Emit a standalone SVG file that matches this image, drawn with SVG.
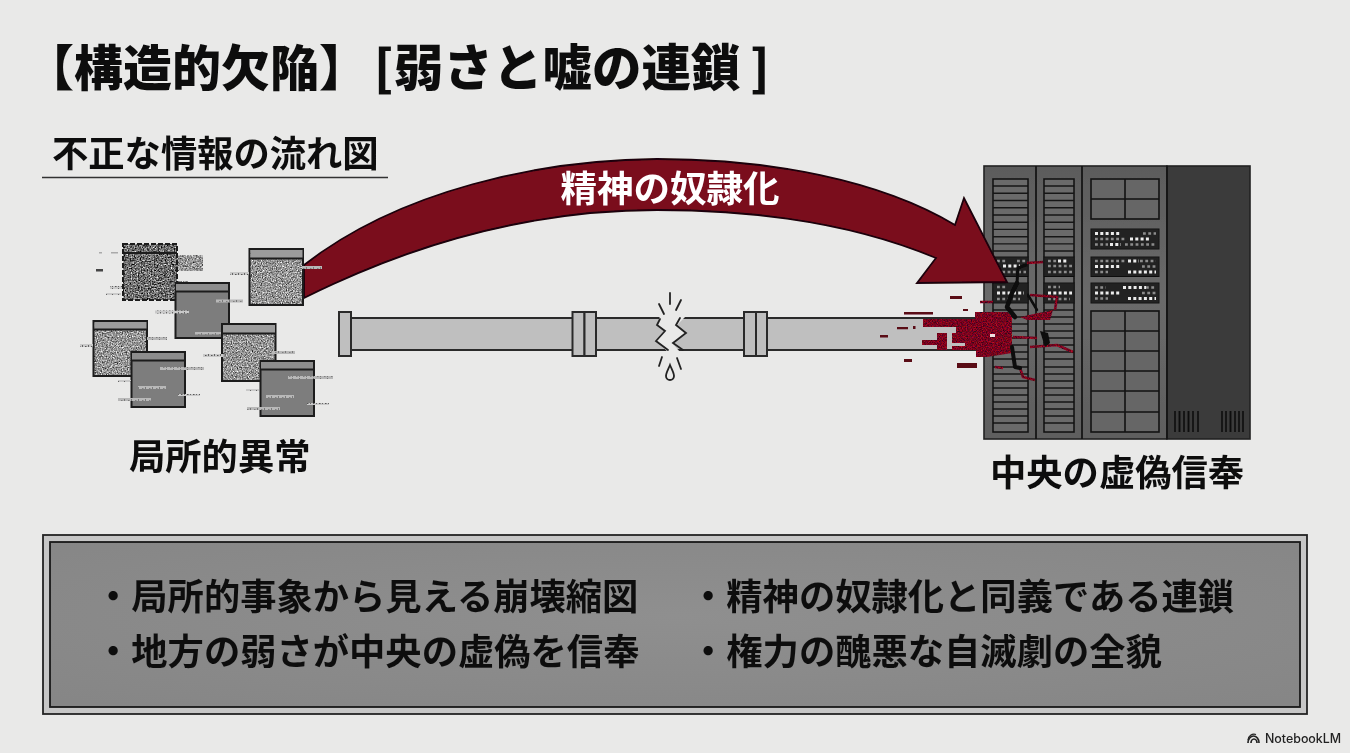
<svg xmlns="http://www.w3.org/2000/svg" width="1350" height="753" viewBox="0 0 1350 753">
<style>
text{font-family:"Noto Sans CJK JP","Noto Sans",sans-serif;font-weight:700;fill:#111}
.t36{font-size:36.300px}
.doc{stroke:#1c1c1c;stroke-width:2}
.hd{fill:none;stroke:#1c1c1c;stroke-width:2}
.lab{fill:url(#txt)}
.lab2{fill:url(#txt2)}
.mod{fill:#242424;stroke:#111;stroke-width:1}
.cell{fill:#666;stroke:#141414;stroke-width:1.6}
.dim{stroke:#8c8c8c;stroke-width:2.6;stroke-dasharray:2.8 2.5;fill:none}
.lit{stroke:#ececec;stroke-width:3;stroke-dasharray:3 2.3;fill:none}
.pipe{fill:#bfbfbf;stroke:#2a2a2a;stroke-width:2}
.scrap{fill:#5a0714}
.crk{fill:none;stroke:#0c0c0c;stroke-linecap:round;stroke-linejoin:round}
.vein{fill:none;stroke:#8f1029;stroke-width:2.6;stroke-linejoin:round}
.spark{stroke:#222;stroke-width:1.8;stroke-linecap:round;fill:none}
</style>
<defs>
<filter id="soft" x="0" y="0" width="100%" height="100%"><feGaussianBlur stdDeviation="0.5"/></filter>
<filter id="noise" x="0" y="0" width="100%" height="100%" color-interpolation-filters="sRGB">
<feTurbulence type="fractalNoise" baseFrequency="0.8" numOctaves="2" seed="4"/>
<feColorMatrix type="matrix" values="0.900 0.900 0 0 -0.320 0.900 0.900 0 0 -0.320 0.900 0.900 0 0 -0.320 0 0 0 0 1"/>
<feComposite in2="SourceAlpha" operator="in"/>
</filter>
<filter id="noiseD" x="0" y="0" width="100%" height="100%" color-interpolation-filters="sRGB">
<feTurbulence type="fractalNoise" baseFrequency="0.7" numOctaves="2" seed="11"/>
<feColorMatrix type="matrix" values="1.050 1.050 0 0 -0.620 1.050 1.050 0 0 -0.620 1.050 1.050 0 0 -0.620 0 0 0 0 1"/>
<feComposite in2="SourceAlpha" operator="in"/>
</filter>
<filter id="noiseR" x="-5%" y="-5%" width="110%" height="110%" color-interpolation-filters="sRGB">
<feTurbulence type="fractalNoise" baseFrequency="0.8" numOctaves="2" seed="7"/>
<feColorMatrix type="matrix" values="1 0 0 0 -0.030 0 0.100 0 0 -0.030 0 0 0.300 0 -0.030 0 0 0 0 1"/>
<feComposite in2="SourceAlpha" operator="in"/>
</filter>
<pattern id="txt" width="7" height="3" patternUnits="userSpaceOnUse"><rect width="7" height="3" fill="#b8b8b8"/><rect x="2" y="1" width="1.500" height="1" fill="#808080"/><rect x="5" width="1" height="2" fill="#7a7a7a"/></pattern>
<pattern id="txt2" width="6" height="3" patternUnits="userSpaceOnUse"><rect width="6" height="3" fill="#c9c9c9"/><rect x="1" y="1" width="1.500" height="1" fill="#555"/><rect x="4" width="1" height="2" fill="#666"/></pattern>
<radialGradient id="pan" cx="50%" cy="45%" r="70%"><stop offset="0" stop-color="#8f8f8f"/><stop offset="1" stop-color="#868686"/></radialGradient>
<linearGradient id="rack" x1="0" y1="0" x2="0" y2="1"><stop offset="0" stop-color="#5c5c5c"/><stop offset=".5" stop-color="#6a6a6a"/><stop offset="1" stop-color="#5e5e5e"/></linearGradient>
</defs>
<rect width="1350" height="753" fill="#e9e9e8"/>
<g filter="url(#soft)">
<g id="heading">
<text font-size="49" x="25" y="86" style="font-weight:900">【構造的欠陥】</text>
<text font-size="49" x="374" y="86" style="font-weight:900">[</text>
<text font-size="49.500" x="394" y="86" style="font-weight:900">弱さと嘘の連鎖</text>
<text font-size="49" x="750" y="86" style="font-weight:900">]</text>
</g>
<g id="subtitle">
<text class="t36" x="52" y="167">不正な情報の流れ図</text>
<line x1="42" y1="177.500" x2="388" y2="177.500" stroke="#333" stroke-width="1.600"/>
</g>

<g id="server">
<rect x="984" y="166" width="183" height="273" fill="url(#rack)" stroke="#222" stroke-width="1.600"/>
<rect x="1167" y="166" width="83" height="273" fill="#3a3a3a" stroke="#222" stroke-width="1.600"/>
<path d="M1036 166V439M1082 166V439M1167 166V439" stroke="#151515" stroke-width="1.800" fill="none"/>
<g id="vent1">
<rect x="993" y="179" width="35" height="253" fill="#6a6a6a" stroke="#151515" stroke-width="1.600"/>
<path d="M993 186H1028M993 193.300H1028M993 200.500H1028M993 207.700H1028M993 215H1028M993 222.200H1028M993 229.400H1028M993 236.700H1028M993 243.900H1028M993 251H1028M993 310H1028M993 317H1028M993 324H1028M993 331H1028M993 338H1028M993 345H1028M993 352H1028M993 359H1028M993 367H1028M993 374H1028M993 381H1028M993 388H1028M993 395H1028M993 402H1028M993 409H1028M993 416H1028M993 423H1028" stroke="#151515" stroke-width="1.400"/>
<rect class="mod" x="993" y="257" width="35" height="19.500"/><rect class="mod" x="993" y="283" width="35" height="20"/>
<path class="dim" d="M997 261H1006M1017 261H1026M997 272H1026"/><path class="lit" d="M1003 266H1020"/>
<path class="dim" d="M997 287H1006M997 299H1020"/><path class="lit" d="M997 293H1024"/>
</g>
<g id="vent2">
<rect x="1044" y="179" width="30" height="253" fill="#6a6a6a" stroke="#151515" stroke-width="1.600"/>
<path d="M1044 186H1074M1044 193.300H1074M1044 200.500H1074M1044 207.700H1074M1044 215H1074M1044 222.200H1074M1044 229.400H1074M1044 236.700H1074M1044 243.900H1074M1044 251H1074M1044 310H1074M1044 317H1074M1044 324H1074M1044 331H1074M1044 338H1074M1044 345H1074M1044 352H1074M1044 359H1074M1044 367H1074M1044 374H1074M1044 381H1074M1044 388H1074M1044 395H1074M1044 402H1074M1044 409H1074M1044 416H1074M1044 423H1074" stroke="#151515" stroke-width="1.400"/>
<rect class="mod" x="1044" y="257" width="30" height="19.500"/><rect class="mod" x="1044" y="283" width="30" height="20"/>
<path class="dim" d="M1048 261H1057M1048 266H1072M1048 272H1072"/><path class="lit" d="M1058 261H1068"/>
<path class="dim" d="M1048 287H1060M1048 299H1070"/><path class="lit" d="M1048 293H1072"/>
</g>
<g id="panel3">
<rect class="cell" x="1091" y="179" width="68" height="40"/>
<path d="M1125 179V219M1091 199H1159" stroke="#141414" stroke-width="1.600"/>
<rect class="cell" x="1091" y="311" width="68" height="121"/>
<path d="M1125 311V432M1091 331H1159M1091 351H1159M1091 371H1159M1091 391H1159M1091 412H1159" stroke="#141414" stroke-width="1.600"/>
<rect class="mod" x="1091" y="229" width="68" height="20"/><rect class="mod" x="1091" y="257" width="68" height="19.500"/><rect class="mod" x="1091" y="283" width="68" height="20"/>
<path class="lit" d="M1095 233.500H1121M1130 239H1151M1110 244.500H1121"/>
<path class="dim" d="M1143 233.500H1156M1095 239H1126M1095 244.500H1108M1125 244.500H1156"/>
<path class="lit" d="M1128 261H1139M1095 266.500H1121M1128 272H1156"/>
<path class="dim" d="M1095 261H1126M1140 261H1156M1142 266.500H1156M1095 272H1108"/>
<path class="lit" d="M1123 287.500H1146M1095 293H1121M1128 298.500H1156"/>
<path class="dim" d="M1095 287.500H1106M1146 287.500H1156M1142 293H1156M1095 298.500H1108"/>
</g>
<path d="M1175 411V432M1179.500 411V432M1184 411V432M1188.500 411V432M1193 411V432M1198 411V432M1222 411V432M1226 411V432M1230.500 411V432M1235 411V432M1239 411V432M1243 411V432" stroke="#111" stroke-width="1.800"/>
</g>

<g id="connectors">
<g id="pipe">
<rect class="pipe" x="351" y="318" width="640" height="32"/>
<rect class="pipe" x="339" y="312" width="12" height="44"/>
<rect class="pipe" x="572.500" y="312" width="12" height="44"/><rect class="pipe" x="584.500" y="312" width="11.500" height="44"/>
<rect class="pipe" x="744" y="312" width="12" height="44"/><rect class="pipe" x="756" y="312" width="11" height="44"/>
<path d="M660 316L686 316L676 326L686 334L672 343L680 352L668 352L656 341L665 331L657 325Z" fill="#e9e9e8" stroke="none"/>
<path class="spark" d="M660 319L657 325L665 331L656 341L668 350"/>
<path class="spark" d="M680 318L676 325L686 333L673 343L683 350"/>
<path class="spark" d="M670 293V304M659 304L664 314M681 300L676 310M662 357L659 366M677 358L681 369"/>
<path d="M670 365C672 370 674 373 674 376A4 4 0 0 1 666 376C666 373 668 370 670 365Z" fill="#e9e9e8" stroke="#222" stroke-width="1.800"/>
</g>
<path id="arrow" d="M304 265C400 190 540 160 657 159C770 159 880 180 955 225L964 198L1007 282L917 283L936 258C850 222 750 210 657 210C540 210 420 240 304 298Z" fill="#7a0a1f" stroke="#1a0508" stroke-width="1.800" stroke-linejoin="miter"/>
<text x="670" y="202" text-anchor="middle" font-size="36.500" style="fill:#fff">精神の奴隷化</text>
</g>

<g id="docs">
<g id="doc-a">
<rect x="177" y="255" width="26" height="16" fill="#777" filter="url(#noise)"/>
<rect x="177" y="281" width="11" height="11" fill="#777" filter="url(#noise)"/>
<rect x="123" y="244" width="54" height="56" fill="#777" filter="url(#noiseD)"/>
<rect x="123" y="244" width="54" height="56" fill="none" stroke="#1c1c1c" stroke-width="2" stroke-dasharray="5 2"/>
<line class="hd" x1="123" y1="253" x2="177" y2="253"/>
<rect class="lab2" x="110" y="286" width="12" height="3"/><rect x="96" y="269" width="7" height="2.500" fill="#444"/><rect x="106" y="293" width="15" height="2" class="lab2"/><rect x="99" y="252" width="3" height="1.500" fill="#aaa"/><rect x="111" y="252" width="7" height="1.500" fill="#aaa"/>
</g>
<g id="doc-c">
<rect class="doc" x="175.500" y="283" width="53.500" height="55" fill="#7d7d7d"/>
<rect x="176" y="284" width="52" height="8" fill="#8d8d8d"/><line class="hd" x1="175" y1="291.500" x2="229" y2="291.500"/>
<rect class="lab" x="216" y="299.500" width="27" height="3"/><rect class="lab2" x="155" y="310.500" width="34" height="3"/><rect class="lab" x="195" y="332" width="35" height="2.500"/>
</g>
<g id="doc-d">
<rect x="93.500" y="321" width="53.500" height="55" fill="#888" filter="url(#noise)"/>
<rect x="93.500" y="321" width="53.500" height="55" fill="none" stroke="#1c1c1c" stroke-width="2"/>
<rect x="94.500" y="322" width="52" height="7" fill="#9c9c9c"/><line class="hd" x1="93" y1="329.500" x2="147" y2="329.500"/>
<rect class="lab" x="147" y="337" width="20" height="3"/><rect class="lab2" x="80" y="344" width="13" height="3"/>
</g>
<g id="doc-f">
<rect class="doc" x="131.500" y="352" width="53.500" height="55" fill="#7d7d7d"/>
<rect x="132" y="353" width="52" height="8" fill="#8d8d8d"/><line class="hd" x1="131" y1="360.500" x2="185" y2="360.500"/>
<rect class="lab" x="160" y="367" width="44" height="3"/><rect class="lab" x="138" y="386" width="28" height="3"/><rect class="lab" x="118" y="398" width="33" height="3"/><rect class="lab2" x="178" y="394" width="22" height="2"/><rect class="lab2" x="118" y="380" width="13" height="2"/>
</g>
<g id="doc-b">
<rect x="249.500" y="249" width="53.500" height="56" fill="#888" filter="url(#noise)"/>
<rect x="249.500" y="249" width="53.500" height="56" fill="none" stroke="#1c1c1c" stroke-width="2"/>
<rect x="250.500" y="250" width="52" height="8" fill="#9c9c9c"/><line class="hd" x1="249" y1="258.500" x2="303" y2="258.500"/>
<rect class="lab2" x="230" y="272" width="19" height="3"/><rect class="lab" x="302" y="266" width="20" height="3"/>
</g>
<g id="doc-e">
<rect x="222" y="324" width="53.500" height="57" fill="#888" filter="url(#noise)"/>
<rect x="222" y="324" width="53.500" height="57" fill="none" stroke="#1c1c1c" stroke-width="2"/>
<rect x="223" y="325" width="52" height="8" fill="#9c9c9c"/><line class="hd" x1="222" y1="333.500" x2="275" y2="333.500"/>
<rect class="lab" x="272" y="351" width="23" height="3"/><rect class="lab2" x="203" y="354" width="20" height="3"/>
</g>
<g id="doc-g">
<rect class="doc" x="260.500" y="361" width="53.500" height="55" fill="#7d7d7d"/>
<rect x="261" y="362" width="52" height="8" fill="#8d8d8d"/><line class="hd" x1="260" y1="369.500" x2="314" y2="369.500"/>
<rect class="lab" x="288" y="376" width="45" height="3"/><rect class="lab" x="266" y="395" width="28" height="3"/><rect class="lab" x="247" y="407" width="33" height="3"/><rect class="lab2" x="307" y="403" width="22" height="2"/><rect class="lab2" x="246" y="389" width="13" height="2"/>
</g>
</g>
<text id="label-left" class="t36" x="129" y="470">局所的異常</text>

<g id="breach">
<g filter="url(#noiseR)">
<path fill="#000" d="M923 319H975V312H1008L1012 317V353L987 357H976V350H952V346H965V343H952V333H956V327H923ZM922 340H937V333H947V350H937V345H922Z"/>
<path class="vein" d="M1027 263L1043 262M980 302H993M1030 295L1057 297L1055 310M1013 337L1037 338M1030 347L1057 345L1073 352M995 367L1003 368M1020 368L1023 377L1035 380"/>
<path fill="#000" d="M1020 317L1053 310L1050 320L1027 320Z"/>
</g>
<rect x="990" y="334" width="5" height="3" fill="#f0e0e0"/>
<path class="scrap" d="M950 296h12v3h-12zM904 312h29v2.500h-29zM957 363h20v5h-20zM904 359h8v3h-8zM897 327h11v2.200h-11zM880 335h8v2.500h-8zM963 309h5v2h-5zM913 326h2.500v3h-2.500z"/>
<path class="crk" stroke-width="3" d="M1026 265L1018 268L1017 283"/>
<path class="crk" stroke-width="4.500" d="M1017 283L1012 293L1007 307L1015 317"/>
<path class="crk" stroke-width="2.500" d="M1028 295L1037 310"/>
<path d="M1040 331L1048 333L1050 343L1045 347Z" fill="#0c0c0c"/>
<path class="crk" stroke-width="4" d="M1012 347L1015 367L1020 368"/>
</g>
<text id="label-right" class="t36" x="990" y="486">中央の虚偽信奉</text>

<g id="summary">
<rect x="43" y="535" width="1264" height="179" fill="#c6c6c6" stroke="#222" stroke-width="1.800"/>
<rect x="50" y="542" width="1250" height="165" fill="url(#pan)" stroke="#1a1a1a" stroke-width="1.800"/>
<text class="t36" x="95" y="610">・局所的事象から見える崩壊縮図</text>
<text class="t36" x="95" y="665">・地方の弱さが中央の虚偽を信奉</text>
<text class="t36" x="690" y="610">・精神の奴隷化と同義である連鎖</text>
<text class="t36" x="690" y="665">・権力の醜悪な自滅劇の全貌</text>
</g>
<g id="brand">
<path d="M1248 743A5.500 7 0 0 1 1259 743M1251 743A3 4 0 0 1 1257 743" fill="none" stroke="#222" stroke-width="1.700"/>
<path d="M1248 740A6 6 0 0 1 1256 734.500" fill="none" stroke="#222" stroke-width="1.200"/>
<text x="1265" y="743" style="font-family:Inter,sans-serif;font-weight:500;fill:#222;font-size:12.400px">NotebookLM</text>
</g>
</g>
</svg>
